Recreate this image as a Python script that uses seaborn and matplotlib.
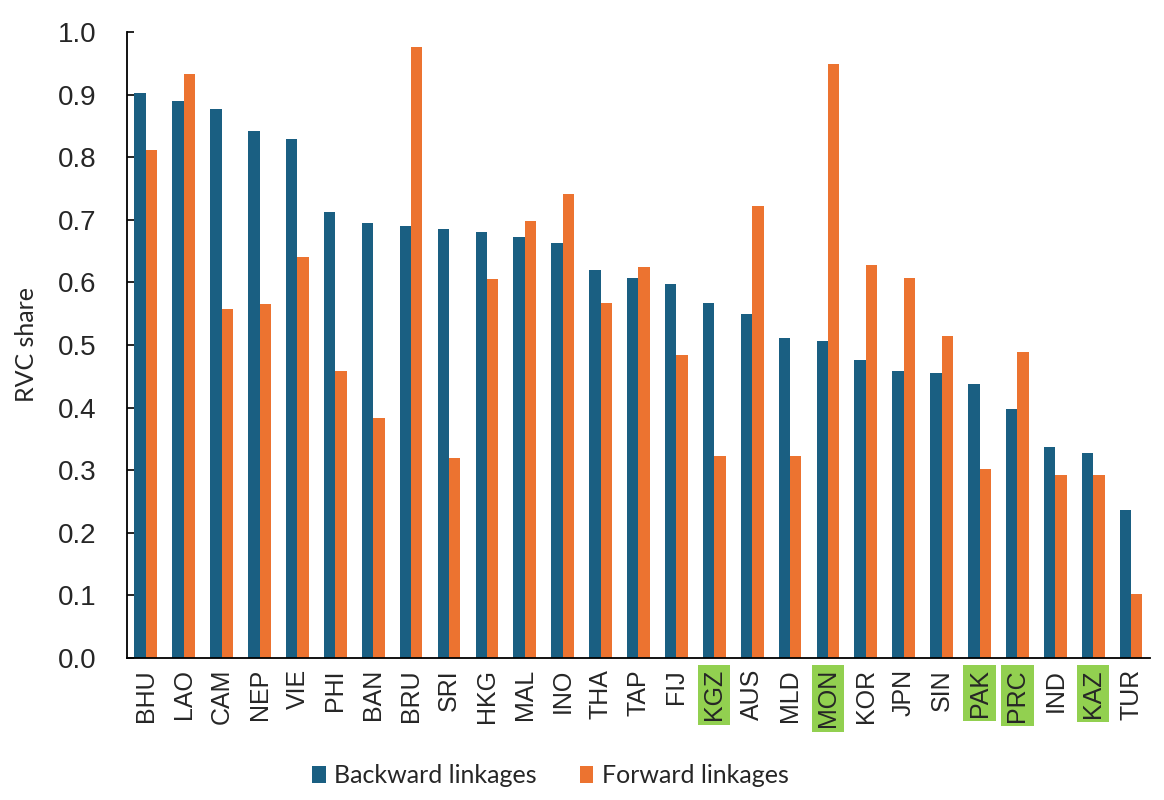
import matplotlib.pyplot as plt
import numpy as np
import pandas as pd
import seaborn as sns

countries = ["BHU", "LAO", "CAM", "NEP", "VIE", "PHI", "BAN", "BRU", "SRI", "HKG",
             "MAL", "INO", "THA", "TAP", "FIJ", "KGZ", "AUS", "MLD", "MON", "KOR",
             "JPN", "SIN", "PAK", "PRC", "IND", "KAZ", "TUR"]
backward = [0.903, 0.890, 0.877, 0.842, 0.829, 0.712, 0.695, 0.690, 0.685, 0.681,
            0.672, 0.663, 0.620, 0.607, 0.598, 0.567, 0.550, 0.511, 0.506, 0.476,
            0.459, 0.455, 0.437, 0.398, 0.337, 0.328, 0.237]
forward = [0.811, 0.933, 0.558, 0.566, 0.641, 0.458, 0.384, 0.976, 0.319, 0.606,
           0.698, 0.741, 0.567, 0.624, 0.484, 0.323, 0.722, 0.323, 0.949, 0.628,
           0.607, 0.515, 0.302, 0.489, 0.293, 0.293, 0.102]
highlighted = ["KGZ", "MON", "PAK", "PRC", "KAZ"]

df = pd.DataFrame({
    "country": countries * 2,
    "value": backward + forward,
    "series": ["Backward linkages"] * len(countries) + ["Forward linkages"] * len(countries),
})

sns.set_style("white")
plt.rcParams["font.family"] = ["Liberation Sans", "DejaVu Sans"]

fig, ax = plt.subplots(figsize=(11.64, 8), dpi=100)
fig.subplots_adjust(left=0.109, right=0.988, top=0.96, bottom=0.1775)

sns.barplot(data=df, x="country", y="value", hue="series", ax=ax,
            palette=["#1a5f82", "#ec7330"], width=0.6, gap=0, saturation=1,
            edgecolor="none", errorbar=None)

ax.set_ylim(0, 1.0)
ax.set_xlim(-0.5, len(countries) - 0.5)
ax.set_yticks(np.arange(0, 1.01, 0.1))
ax.set_yticklabels([f"{v:.1f}" for v in np.arange(0, 1.01, 0.1)], fontsize=20)
ax.set_ylabel("RVC share", fontsize=18, family="Lato", labelpad=14)
ax.set_xlabel("")

ax.set_xticks(range(len(countries)))
ax.set_xticklabels(countries, rotation=90, fontsize=18)
ax.set_xticks(np.arange(-0.5, len(countries), 1), minor=True)
ax.tick_params(axis="x", which="major", length=0, pad=8)
ax.tick_params(axis="x", which="minor", direction="in", length=5, width=1.2, color="black")
ax.tick_params(axis="y", direction="in", length=5, width=1.2, color="black", left=True, pad=22)

for lab in ax.get_xticklabels():
    if lab.get_text() in highlighted:
        lab.set_bbox(dict(facecolor="#92d050", edgecolor="none", pad=3))

for side in ["top", "right"]:
    ax.spines[side].set_visible(False)
for side in ["left", "bottom"]:
    ax.spines[side].set_color("black")
    ax.spines[side].set_linewidth(1.3)

leg = ax.legend(loc="center", bbox_to_anchor=(0.414, -0.188), ncol=2, frameon=False,
                handlelength=0.55, handleheight=0.7, columnspacing=1.7,
                handletextpad=0.35, prop={"family": "Lato", "size": 18})

fig.savefig("out.png", dpi=100)
